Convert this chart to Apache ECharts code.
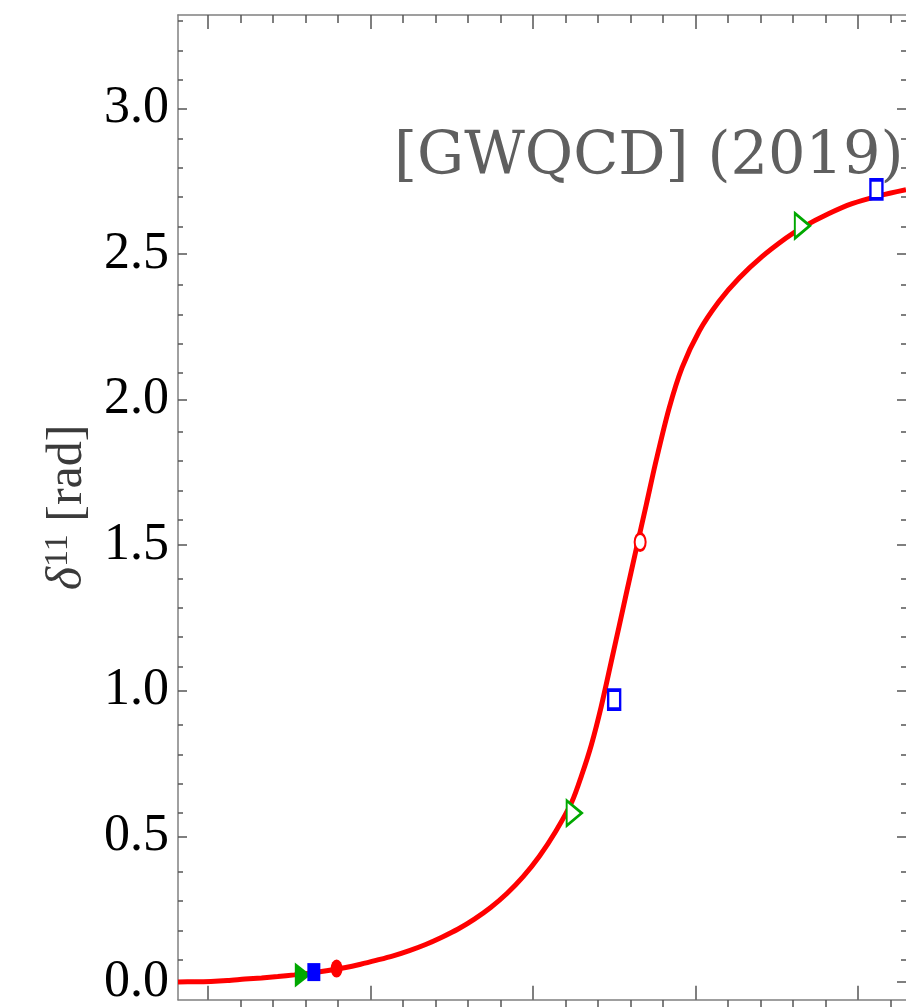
<!DOCTYPE html>
<html>
<head>
<meta charset="utf-8">
<script src="https://cdn.jsdelivr.net/npm/echarts@6/dist/echarts.min.js"></script>
<style>
html,body{margin:0;padding:0;background:#fff;}
#chart{width:906px;height:1008px;}
</style>
</head>
<body>
<div id="chart"></div>
<script>
// ---- data ----
const curve = [
  [1.908, 0.000], [1.960, 0.001], [2.009, 0.002], [2.060, 0.005], [2.114, 0.010],
  [2.165, 0.014], [2.215, 0.019], [2.266, 0.0245], [2.316, 0.031], [2.370, 0.0395],
  [2.420, 0.049], [2.470, 0.061], [2.520, 0.075], [2.570, 0.090], [2.620, 0.108],
  [2.670, 0.129], [2.720, 0.154], [2.770, 0.182], [2.820, 0.216], [2.870, 0.256],
  [2.920, 0.304], [2.970, 0.362], [3.020, 0.432], [3.070, 0.517], [3.120, 0.619],
  [3.150, 0.710], [3.180, 0.815], [3.210, 0.945], [3.244, 1.115], [3.266, 1.225],
  [3.287, 1.332], [3.318, 1.487], [3.349, 1.640], [3.379, 1.790], [3.419, 1.970],
  [3.459, 2.110], [3.512, 2.236], [3.573, 2.338], [3.634, 2.417], [3.705, 2.491],
  [3.779, 2.555], [3.828, 2.591], [3.911, 2.639], [3.982, 2.673], [4.065, 2.700],
  [4.148, 2.721]
];
const greenFilled = [[2.292, 0.024]];
const blueFilled  = [[2.326, 0.034]];
const redFilled   = [[2.396, 0.046]];
const greenOpen   = [[3.127, 0.580], [3.829, 2.597]];
const blueOpen    = [[3.250, 0.970], [4.057, 2.722]];
const redOpen     = [[3.330, 1.511]];

const yMajor = [0, 0.5, 1.0, 1.5, 2.0, 2.5, 3.0];
const yTickLabels = ['0.0', '0.5', '1.0', '1.5', '2.0', '2.5', '3.0'];
const yMinor = [0.1, 0.2, 0.3, 0.4, 0.6, 0.7, 0.8, 0.9, 1.1, 1.2, 1.3, 1.4, 1.6, 1.7, 1.8, 1.9,
                2.1, 2.2, 2.3, 2.4, 2.6, 2.7, 2.8, 2.9, 3.1, 3.2, 3.3];
const xMajor = [2.0, 2.5, 3.0, 3.5, 4.0];
const xMinor = [2.1, 2.2, 2.3, 2.4, 2.6, 2.7, 2.8, 2.9, 3.1, 3.2, 3.3, 3.4, 3.6, 3.7, 3.8, 3.9, 4.1];

const annotation = '[GWQCD] (2019)';
const yName = '{d|δ}{s|11}{sp| }{n|[rad]}';

// ---- styling / layout ----
const xMin = 1.908, xMax = 4.148, yMin = -0.061, yMax = 3.321;
const gridBox = {left: 178, right: -1, top: 15, bottom: 1};
const lineCol = '#808080', tickCol = '#555';

function xAx(grid, pos, vals, len, showLine) {
  return {
    type: 'value', gridIndex: grid, position: pos, min: xMin, max: xMax,
    axisLine: {show: showLine, onZero: false, lineStyle: {color: lineCol, width: 1.5}},
    axisTick: {show: true, inside: true, length: len, customValues: vals, lineStyle: {color: tickCol, width: 1.5}},
    axisLabel: {show: false}, splitLine: {show: false}
  };
}
function yAx(grid, pos, vals, len, showLine) {
  return {
    type: 'value', gridIndex: grid, position: pos, min: yMin, max: yMax,
    axisLine: {show: showLine, onZero: false, lineStyle: {color: lineCol, width: 1.5}},
    axisTick: {show: true, inside: true, length: len, customValues: vals, lineStyle: {color: tickCol, width: 1.5}},
    axisLabel: {show: false}, splitLine: {show: false}
  };
}

const yLeftMajor = yAx(0, 'left', yMajor, 9, true);
yLeftMajor.axisLabel = {
  show: true, customValues: yMajor, margin: 9,
  formatter: function (v) {
    let best = 0;
    for (let i = 0; i < yMajor.length; i++) if (Math.abs(yMajor[i] - v) < Math.abs(yMajor[best] - v)) best = i;
    return yTickLabels[best];
  },
  color: '#000', fontFamily: '"Liberation Serif", "Times New Roman", serif', fontSize: 52
};
const serif = '"Liberation Serif", serif';
yLeftMajor.name = yName;
yLeftMajor.nameLocation = 'middle';
yLeftMajor.nameRotate = 90;
yLeftMajor.nameGap = 80;
yLeftMajor.nameTextStyle = {
  color: '#3a3a3a',
  rich: {
    d: {fontFamily: serif, fontStyle: 'italic', fontSize: 50, color: '#3a3a3a'},
    s: {fontFamily: serif, fontSize: 34, color: '#3a3a3a', padding: [0, 0, 20, 0]},
    sp: {fontFamily: serif, fontSize: 50, color: '#3a3a3a'},
    n: {fontFamily: serif, fontSize: 50, color: '#3a3a3a'}
  }
};

const triPath = 'path://M0,0L10,5L0,10Z';
const ellPath = 'path://M0,5A5,5 0 1,1 10,5A5,5 0 1,1 0,5Z';

function scat(data, symbol, size, fill, stroke, bw) {
  return {
    type: 'scatter', xAxisIndex: 0, yAxisIndex: 0, data: data, symbol: symbol, symbolSize: size,
    itemStyle: {color: fill, borderColor: stroke, borderWidth: bw, opacity: 1},
    z: 5, silent: true
  };
}

const option = {
  backgroundColor: '#fff',
  animation: false,
  grid: [
    Object.assign({}, gridBox, {containLabel: false}),
    Object.assign({}, gridBox, {containLabel: false})
  ],
  xAxis: [
    xAx(0, 'bottom', xMajor, 14, true),
    xAx(0, 'top', xMajor, 14, true),
    xAx(1, 'bottom', xMinor, 7, false),
    xAx(1, 'top', xMinor, 8, false)
  ],
  yAxis: [
    yLeftMajor,
    yAx(0, 'right', yMajor, 9, false),
    yAx(1, 'left', yMinor, 5, false),
    yAx(1, 'right', yMinor, 5, false)
  ],
  graphic: [{
    type: 'text', x: 394, y: 159, z: 10,
    style: {
      text: annotation, fill: '#5f5f5f',
      fontFamily: '"DejaVu Serif", serif', fontSize: 59,
      verticalAlign: 'middle', align: 'left'
    }
  }],
  series: [
    {
      type: 'line', xAxisIndex: 0, yAxisIndex: 0, data: curve, smooth: 0.3,
      showSymbol: false, symbol: 'none', lineStyle: {color: '#ff0000', width: 5}, z: 3, silent: true
    },
    scat(greenFilled, triPath, [16, 25], '#00a800', '#00a800', 0),
    scat(blueFilled, 'rect', [13, 18], '#0000ff', '#0000ff', 0),
    scat(redFilled, ellPath, [12, 18], '#ff0000', '#ff0000', 0),
    scat(greenOpen, triPath, [15, 25], '#ffffff', '#00a800', 2.5),
    scat(blueOpen, 'rect', [12, 19], '#ffffff', '#0000ff', 3),
    scat(redOpen, ellPath, [11, 17], '#ffffff', '#ff0000', 2.5)
  ]
};

const chart = echarts.init(document.getElementById('chart'), null, {renderer: 'canvas'});
chart.setOption(option);
</script>
</body>
</html>
